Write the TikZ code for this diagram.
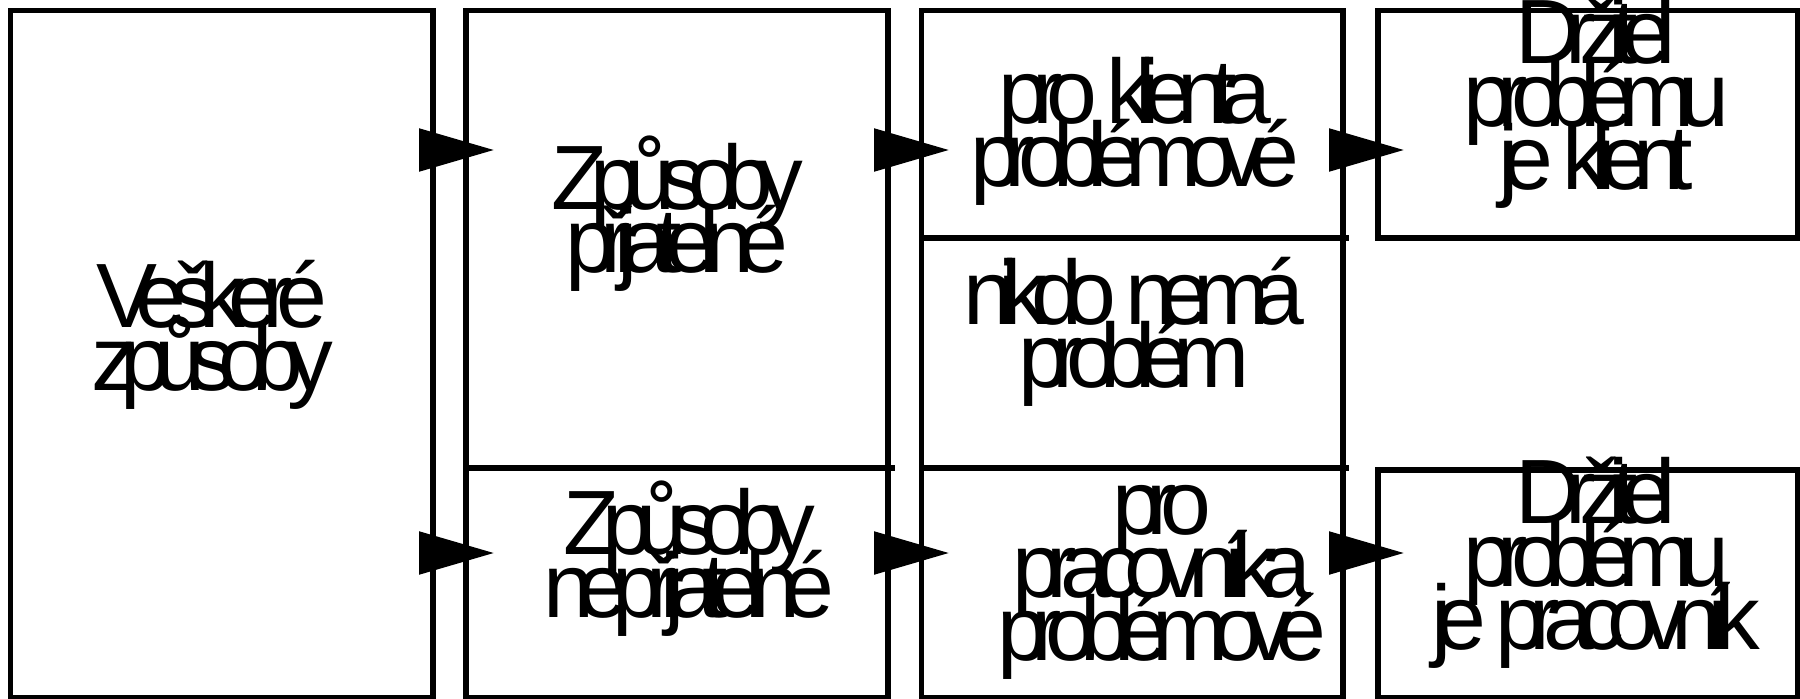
\documentclass[tikz,border=0pt]{standalone}
\usepackage{fontspec}
\setmainfont{Liberation Sans}[LetterSpace=-18]
\usetikzlibrary{arrows.meta}
\newcommand\boxfont{\fontsize{26}{17.8}\selectfont\lineskiplimit=-50pt\relax}

\begin{document}
\begin{tikzpicture}[x=0.1mm, y=-0.1mm,
    frame/.style={draw, line width=0.55mm, inner sep=0pt, outer sep=0pt, anchor=north west},
    divider/.style={line width=0.55mm},
    txt/.style={align=center, inner sep=0pt, anchor=base, font=\boxfont},
    flow/.style={line width=0.55mm, -{Triangle[length=7.5mm, width=4.2mm]}}]
  \useasboundingbox (0,0) rectangle (1800,698);
  % frames
  \node[frame, minimum width=42.25mm, minimum height=68.75mm] (box1) at (10.5,10.5) {};
  \node[frame, minimum width=42.2mm, minimum height=68.75mm] (box2) at (466,10.5) {};
  \node[frame, minimum width=42.15mm, minimum height=68.75mm] (box3) at (921.5,10.5) {};
  \node[frame, minimum width=41.95mm, minimum height=22.75mm] (box4) at (1378,10.5) {};
  \node[frame, minimum width=41.95mm, minimum height=22.8mm] (box5) at (1378,470) {};
  % dividers
  \coordinate (d1) at (0,238);
  \coordinate (d2) at (0,468);
  \draw[divider] (box2.west |- d2) -- (895,468);
  \draw[divider] (box3.west |- d1) -- (1349,238);
  \draw[divider] (box3.west |- d2) -- (1349,468);
  % texts (anchor = baseline of the last line)
  \node[txt] (vse) at (212,390) {Veškeré\\způsoby};
  \node[txt] (prij) at (677,272) {Způsoby\\přijatelné};
  \node[txt] (neprij) at (689,617) {Způsoby\\nepřijatelné};
  \node[txt] (klient) at (1135,186) {pro klienta\\problémové};
  \node[txt] (nikdo) at (1134,387) {nikdo nemá\\problém};
  \node[txt] (pracov) at (1162,660) {pro\\pracovníka\\problémové};
  \node[txt] (drzk) at (1596,189) {Držitel\\problému\\je klient};
  \node[txt] (drzp) at (1596,649) {Držitel\\problému\\je pracovník};
  % arrows
  \coordinate (a1) at (494,150);
  \coordinate (a2) at (494,553);
  \coordinate (a3) at (949,150);
  \coordinate (a4) at (949,553);
  \coordinate (a5) at (1404,150);
  \coordinate (a6) at (1404,553);
  \draw[flow] (box1.east |- a1) -- (a1);
  \draw[flow] (box1.east |- a2) -- (a2);
  \draw[flow] (box2.east |- a3) -- (a3);
  \draw[flow] (box2.east |- a4) -- (a4);
  \draw[flow] (box3.east |- a5) -- (a5);
  \draw[flow] (box3.east |- a6) -- (a6);
\end{tikzpicture}
\end{document}
